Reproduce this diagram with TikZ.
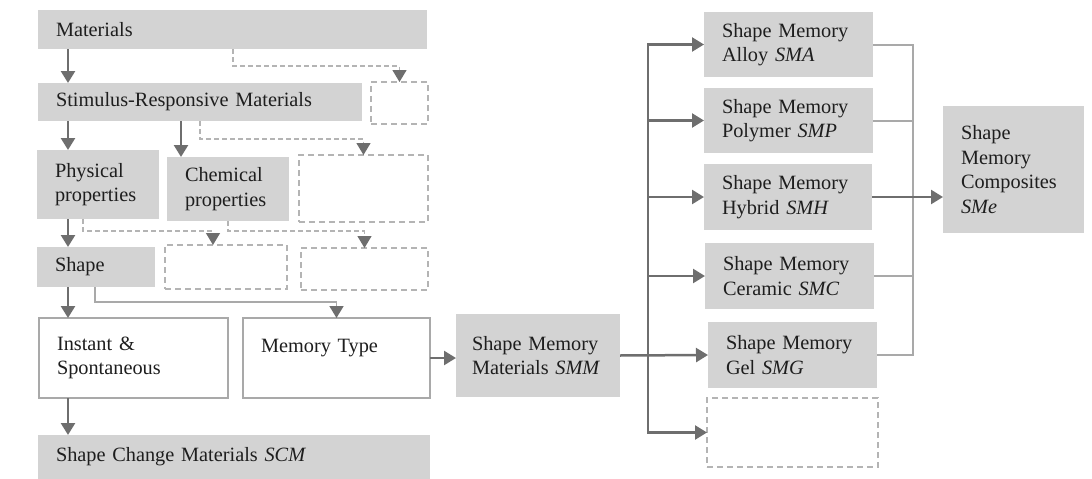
\documentclass[tikz,border=0pt]{standalone}
\usepackage{fontspec}
\setmainfont{Liberation Serif}
\usepackage{xcolor}
\usetikzlibrary{arrows.meta,positioning,calc}
\definecolor{boxgray}{HTML}{D3D3D3}
\definecolor{arrgray}{HTML}{6E6E6E}
\definecolor{dashgray}{HTML}{B4B4B4}
\definecolor{linegray}{HTML}{A9A9A9}
\definecolor{txtgray}{HTML}{1E1E1E}
\newcommand{\boxfont}{\fontsize{20.3}{24.6}\selectfont}
\tikzset{
  >={Triangle[length=12pt,width=14pt]},
  fillb/.style ={rectangle, fill=boxgray, anchor=north west, inner xsep=18pt,
                 inner ysep=0pt, outer sep=0pt, font=\boxfont, text=txtgray,
                 align=left},
  openb/.style ={fillb, fill=white, draw=linegray, line width=1.5pt},
  dashb/.style ={rectangle, anchor=north west, draw=dashgray, line width=1.5pt,
                 dash pattern=on 6pt off 4pt, inner sep=0pt, outer sep=0pt},
  con/.style   ={->, draw=arrgray, line width=2.5pt},
  wk/.style    ={-{Triangle[length=12pt,width=14pt,color=arrgray]}, draw=dashgray,
                 line width=1.3pt, dash pattern=on 5pt off 3pt},
  lnk/.style   ={-{Triangle[length=12pt,width=14pt,color=arrgray]}, draw=linegray,
                 line width=1.6pt},
  bus/.style   ={draw=linegray, line width=2pt},
}
\begin{document}
\begin{tikzpicture}[x=1pt,y=-1pt]
\useasboundingbox (0,0) rectangle (1092,479);
% left column
\node[fillb, text width=353pt, minimum height=39pt] (mat)  at (38,10)  {Materials};
\node[fillb, text width=288pt, minimum height=38pt] (srm)  at (38,83)  {Stimulus-Responsive Materials};
\node[dashb, minimum width=57pt, minimum height=42pt] (opA) at (371,82) {};
\node[fillb, text width=86pt, minimum height=69pt]  (phys) at (37,150) {Physical\\properties};
\node[fillb, text width=86pt, minimum height=64pt]  (chem) at (167,157) {Chemical\\properties};
\node[dashb, minimum width=129pt, minimum height=67pt] (opB) at (299,155) {};
\node[fillb, text width=82pt, minimum height=40pt]  (shp)  at (37,247) {Shape};
\node[dashb, minimum width=122pt, minimum height=44pt] (opC) at (165,245) {};
\node[dashb, minimum width=127pt, minimum height=42pt] (opD) at (301,248) {};
\node[openb, text width=153pt, minimum height=80pt] (inst) at (39,318) {Instant \&\\Spontaneous};
\node[openb, text width=151pt, minimum height=80pt] (memt) at (243,318) {Memory Type\\\mbox{}};
\node[fillb, text width=356pt, minimum height=44pt] (scm)  at (38,435) {Shape Change Materials \textit{SCM}};
% middle and right
\node[fillb, inner xsep=16pt, text width=132pt, minimum height=83pt] (smm) at (456,314) {Shape Memory\\Materials \textit{SMM}};
\node[fillb, text width=133pt, minimum height=65pt] (sma)  at (704,12)  {Shape Memory\\Alloy \textit{SMA}};
\node[fillb, text width=133pt, minimum height=65pt] (smp)  at (704,88)  {Shape Memory\\Polymer \textit{SMP}};
\node[fillb, text width=132pt, minimum height=66pt] (smh)  at (704,164) {Shape Memory\\Hybrid \textit{SMH}};
\node[fillb, text width=133pt, minimum height=66pt] (smc)  at (705,243) {Shape Memory\\Ceramic \textit{SMC}};
\node[fillb, text width=133pt, minimum height=66pt] (smg)  at (708,322) {Shape Memory\\Gel \textit{SMG}};
\node[dashb, minimum width=171pt, minimum height=69pt] (opE) at (707,398) {};
\node[fillb, text width=105pt, minimum height=127pt] (sme) at (943,106) {Shape\\Memory\\Composites\\\textit{SMe}};
% connectors
\draw[con] ([xshift=30pt]mat.south west) -- ([xshift=30pt]srm.north west);
\draw[wk]  ([xshift=195pt]mat.south west) -- ++(0,-17pt) -| (opA.north);
\draw[con] ([xshift=30pt]srm.south west) -- ([xshift=31pt]phys.north west);
\draw[con] ([xshift=143pt]srm.south west) -- ([xshift=14pt]chem.north west);
\draw[wk]  ([xshift=162pt]srm.south west) -- ++(0,-18pt) -| (opB.north);
\draw[con] ([xshift=31pt]phys.south west) -- ([xshift=31pt]shp.north west);
\draw[wk]  ([xshift=46pt]phys.south west) -- ++(0,-12pt) -| ([xshift=48pt]opC.north west);
\draw[wk]  (chem.south) -- ++(0,-10pt) -| (opD.north);
\draw[con] ([xshift=31pt]shp.south west) -- ([xshift=29pt]inst.north west);
\draw[lnk] ([xshift=58pt]shp.south west) -- ++(0,-15pt) -| (memt.north);
\draw[con] ([xshift=29pt]inst.south west) -- ([xshift=30pt]scm.north west);
\draw[con] (memt.east) -- (memt.east -| smm.west);
\draw[con] (smm.east) -- (smg.west);
\coordinate (busL) at ([xshift=28pt]smm.east);
\foreach \n in {sma,smp,smh,smc,opE} \draw[con] (busL) |- (\n.west);
\coordinate (busR) at ([xshift=41pt]smh.east);
\foreach \n in {sma,smp,smc,smg} \draw[bus] (\n.east) -| (busR);
\draw[con] (smh.east) -- (smh.east -| sme.west);
\end{tikzpicture}
\end{document}
